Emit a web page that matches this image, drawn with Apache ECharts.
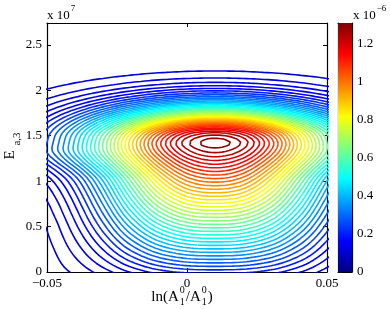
<!DOCTYPE html>
<html><head><meta charset="utf-8">
<script src="https://cdn.jsdelivr.net/npm/echarts@6/dist/echarts.min.js"></script>
<style>html,body{margin:0;padding:0;background:#fff}#c{width:390px;height:309px}</style>
</head><body><div id="c"></div>
<script>
// ln(A1/A1^0) grid columns
const lnRatio = [-0.06,-0.05,-0.04,-0.03,-0.02,-0.01,0,0.01,0.02,0.03,0.04,0.05,0.06];
// E_a,3 grid rows (x 1e7)
const energy = [-0.07,0.03,0.13,0.23,0.33,0.43,0.53,0.63,0.73,0.83,0.93,1.03,1.13,1.23,1.33,1.43,1.53,1.63,1.73,1.83,1.93,2.03,2.13,2.23,2.33,2.43,2.53,2.63,2.73,2.83];
// density values (x 1e-6), one row per energy value
const density = [
[0.0022,0.0085,0.0270,0.0563,0.0923,0.1232,0.1403,0.1439,0.1403,0.1232,0.0923,0.0563,0.0270],
[0.0035,0.0135,0.0423,0.0883,0.1447,0.1933,0.2200,0.2257,0.2200,0.1933,0.1447,0.0883,0.0423],
[0.0043,0.0165,0.0577,0.1204,0.1972,0.2633,0.2998,0.3076,0.2998,0.2633,0.1972,0.1204,0.0577],
[0.0055,0.0200,0.0732,0.1524,0.2495,0.3332,0.3794,0.3894,0.3794,0.3332,0.2495,0.1524,0.0732],
[0.0070,0.0250,0.0888,0.1844,0.3014,0.4027,0.4590,0.4712,0.4590,0.4027,0.3014,0.1844,0.0888],
[0.0085,0.0300,0.1049,0.2163,0.3529,0.4718,0.5383,0.5530,0.5383,0.4718,0.3529,0.2163,0.1049],
[0.0100,0.0360,0.1214,0.2481,0.4036,0.5399,0.6172,0.6347,0.6172,0.5399,0.4036,0.2481,0.1214],
[0.0130,0.0460,0.1387,0.2799,0.4531,0.6066,0.6955,0.7163,0.6955,0.6066,0.4531,0.2799,0.1387],
[0.0170,0.0560,0.1575,0.3117,0.5012,0.6715,0.7730,0.7979,0.7730,0.6715,0.5012,0.3117,0.1575],
[0.0220,0.0700,0.1786,0.3444,0.5481,0.7343,0.8494,0.8793,0.8494,0.7343,0.5481,0.3444,0.1786],
[0.0310,0.0880,0.2044,0.3803,0.5955,0.7958,0.9245,0.9604,0.9245,0.7958,0.5955,0.3803,0.2044],
[0.0466,0.1144,0.2383,0.4235,0.6471,0.8578,0.9985,1.0411,0.9985,0.8578,0.6471,0.4235,0.2383],
[0.0740,0.1584,0.2976,0.4918,0.7175,0.9290,1.0740,1.1210,1.0740,0.9290,0.7175,0.4918,0.2976],
[0.1135,0.2158,0.3695,0.5705,0.7954,1.0037,1.1491,1.1990,1.1491,1.0037,0.7954,0.5705,0.3695],
[0.1428,0.2562,0.4192,0.6265,0.8552,1.0668,1.2168,1.2706,1.2168,1.0668,0.8552,0.6265,0.4192],
[0.1381,0.2509,0.4157,0.6284,0.8666,1.0899,1.2511,1.3100,1.2511,1.0899,0.8666,0.6284,0.4157],
[0.1299,0.2360,0.3910,0.5911,0.8152,1.0253,1.1768,1.2323,1.1768,1.0253,0.8152,0.5911,0.3910],
[0.1081,0.1964,0.3255,0.4921,0.6786,0.8535,0.9796,1.0258,0.9796,0.8535,0.6786,0.4921,0.3255],
[0.0797,0.1447,0.2398,0.3625,0.4999,0.6287,0.7217,0.7557,0.7217,0.6287,0.4999,0.3625,0.2398],
[0.0519,0.0944,0.1563,0.2363,0.3259,0.4099,0.4705,0.4927,0.4705,0.4099,0.3259,0.2363,0.1563],
[0.0300,0.0544,0.0902,0.1364,0.1881,0.2365,0.2715,0.2843,0.2715,0.2365,0.1881,0.1364,0.0902],
[0.0153,0.0278,0.0461,0.0697,0.0961,0.1208,0.1387,0.1452,0.1387,0.1208,0.0961,0.0697,0.0461],
[0.0069,0.0126,0.0208,0.0314,0.0434,0.0545,0.0626,0.0655,0.0626,0.0545,0.0434,0.0314,0.0208],
[0.0028,0.0050,0.0083,0.0126,0.0173,0.0218,0.0250,0.0262,0.0250,0.0218,0.0173,0.0126,0.0083],
[0.0010,0.0018,0.0029,0.0045,0.0061,0.0077,0.0089,0.0093,0.0089,0.0077,0.0061,0.0045,0.0029],
[0.0003,0.0006,0.0009,0.0014,0.0019,0.0024,0.0028,0.0029,0.0028,0.0024,0.0019,0.0014,0.0009],
[0.0001,0.0002,0.0003,0.0004,0.0005,0.0007,0.0008,0.0008,0.0008,0.0007,0.0005,0.0004,0.0003],
[0,0,0.0001,0.0001,0.0001,0.0002,0.0002,0.0002,0.0002,0.0002,0.0001,0.0001,0.0001],
[0,0,0,0,0,0,0,0,0,0,0,0,0],
[0,0,0,0,0,0,0,0,0,0,0,0,0]
];
// contour levels (x 1e-6)
const contourLevels = [0.0315,0.063,0.0945,0.126,0.1575,0.189,0.2205,0.252,0.2835,0.315,0.3465,0.378,0.4095,0.441,0.4725,0.504,0.5355,0.567,0.5985,0.63,0.6615,0.693,0.7245,0.756,0.7875,0.819,0.8505,0.882,0.9135,0.945,0.9765,1.008,1.0395,1.071,1.1025,1.134,1.1655,1.197,1.2285,1.26,1.2915];
const xTicks = [-0.05, 0, 0.05];
const yTicks = [0, 0.5, 1, 1.5, 2, 2.5];
const cbTicks = [0, 0.2, 0.4, 0.6, 0.8, 1, 1.2];
const cbMax = 1.31;
const xRange = [-0.05, 0.05];
const yRange = [0, 2.74];

const FONT = '"Liberation Serif", "Times New Roman", serif';

function jet(t) {
  const c = v => Math.max(0, Math.min(1, v));
  return [c(Math.min(4*t-1.5, -4*t+4.5)), c(Math.min(4*t-0.5, -4*t+3.5)), c(Math.min(4*t+0.5, -4*t+2.5))];
}
function lineJet(t) {
  const c = jet(t);
  if (t < 0.125) c[2] = 0.8 + 1.6 * t;
  return c;
}
function rgb(a) { return 'rgb(' + a.map(v => Math.round(v*255)).join(',') + ')'; }

function catmull(p0,p1,p2,p3,t){ return 0.5*(2*p1 + (-p0+p2)*t + (2*p0-5*p1+4*p2-p3)*t*t + (-p0+3*p1-3*p2+p3)*t*t*t); }
function up1(arr, f) {
  const n = arr.length, out = [];
  for (let i = 0; i < n-1; i++) {
    const p0 = arr[Math.max(i-1,0)], p1 = arr[i], p2 = arr[i+1], p3 = arr[Math.min(i+2,n-1)];
    for (let s = 0; s < f; s++) out.push(catmull(p0,p1,p2,p3,s/f));
  }
  out.push(arr[n-1]);
  return out;
}
const fx = 8, fy = 3;
const Xf = up1(lnRatio, fx), Yf = up1(energy, fy);
const rowsUp = density.map(r => up1(r, fx));
const Zf = Yf.map(() => new Array(Xf.length));
for (let i = 0; i < Xf.length; i++) {
  const col = up1(rowsUp.map(r => r[i]), fy);
  for (let j = 0; j < col.length; j++) Zf[j][i] = col[j];
}

function contour(Z, X, Y, lv) {
  const ny = Z.length, nx = Z[0].length;
  const pts = {}, adj = {};
  function pt(k, xa,ya,za,xb,yb,zb){ if (!(k in pts)) { const t = (lv-za)/(zb-za); pts[k] = [xa+t*(xb-xa), ya+t*(yb-ya)]; } }
  function link(a,b){ (adj[a] = adj[a] || []).push(b); (adj[b] = adj[b] || []).push(a); }
  for (let j = 0; j < ny-1; j++) for (let i = 0; i < nx-1; i++) {
    const z00 = Z[j][i], z10 = Z[j][i+1], z01 = Z[j+1][i], z11 = Z[j+1][i+1];
    const a00 = z00>=lv, a10 = z10>=lv, a01 = z01>=lv, a11 = z11>=lv;
    const E = {};
    if (a00 !== a10) { const k = 'h'+j+'_'+i; pt(k, X[i],Y[j],z00, X[i+1],Y[j],z10); E.b = k; }
    if (a01 !== a11) { const k = 'h'+(j+1)+'_'+i; pt(k, X[i],Y[j+1],z01, X[i+1],Y[j+1],z11); E.t = k; }
    if (a00 !== a01) { const k = 'v'+j+'_'+i; pt(k, X[i],Y[j],z00, X[i],Y[j+1],z01); E.l = k; }
    if (a10 !== a11) { const k = 'v'+j+'_'+(i+1); pt(k, X[i+1],Y[j],z10, X[i+1],Y[j+1],z11); E.r = k; }
    const ks = Object.keys(E);
    if (ks.length === 2) link(E[ks[0]], E[ks[1]]);
    else if (ks.length === 4) {
      const c = (z00+z10+z01+z11)/4 >= lv;
      if (a00 && a11) { if (c) { link(E.b,E.r); link(E.l,E.t); } else { link(E.b,E.l); link(E.r,E.t); } }
      else { if (c) { link(E.b,E.l); link(E.t,E.r); } else { link(E.b,E.r); link(E.l,E.t); } }
    }
  }
  const used = new Set(), lines = [];
  const walk = start => {
    const line = [pts[start]]; used.add(start); let cur = start;
    while (true) {
      const nb = adj[cur].filter(n => !used.has(n));
      if (!nb.length) { if (line.length > 2 && adj[cur].includes(start)) line.push(pts[start]); break; }
      cur = nb[0]; used.add(cur); line.push(pts[cur]);
    }
    return line;
  };
  const nodes = Object.keys(adj);
  nodes.forEach(n => { if (adj[n].length === 1 && !used.has(n)) lines.push(walk(n)); });
  nodes.forEach(n => { if (!used.has(n)) lines.push(walk(n)); });
  return lines;
}

const series = [];
contourLevels.forEach(lv => {
  const color = rgb(lineJet(lv / cbMax));
  contour(Zf, Xf, Yf, lv).forEach(line => {
    if (line.length < 2) return;
    series.push({
      type: 'line', xAxisIndex: 0, yAxisIndex: 0, data: line, showSymbol: false, symbol: 'none',
      silent: true, animation: false, clip: true, z: 2,
      lineStyle: { color: color, width: 1.6 }
    });
  });
});

const stops = [];
for (let i = 0; i <= 64; i++) stops.push({ offset: i/64, color: rgb(jet(i/64)) });
series.push({
  type: 'custom', xAxisIndex: 2, yAxisIndex: 2, data: [[0, 0, 1, cbMax]], silent: true, animation: false,
  renderItem: (params, api) => {
    const p0 = api.coord([api.value(0), api.value(1)]), p1 = api.coord([api.value(2), api.value(3)]);
    return { type: 'rect', shape: { x: p0[0], y: p1[1], width: p1[0]-p0[0], height: p0[1]-p1[1] },
      style: { fill: new echarts.graphic.LinearGradient(0, 1, 0, 0, stops) } };
  }
});

const near = (v, arr) => arr.some(t => Math.abs(t - v) < 1e-6);
const fmtX = v => { if (!near(v, xTicks)) return ''; if (Math.abs(v) < 1e-9) return '0'; return (v < 0 ? '\u2212' : '') + Math.abs(v).toFixed(2); };
const fmtY = v => near(v, yTicks) ? String(+v.toFixed(2)) : '';
const fmtC = v => near(v, cbTicks) ? String(+v.toFixed(2)) : '';

const lab = (show, fmt) => ({ show: show, color: '#000', fontFamily: FONT, fontSize: 13, margin: 5, formatter: fmt });
const line = { show: true, onZero: false, lineStyle: { color: '#000', width: 1.2 } };
const tick = (len) => ({ show: true, inside: true, length: len, lineStyle: { color: '#000', width: 1 } });
const mkX = (grid, pos, min, max, interval, labels, tl) => ({
  type: 'value', gridIndex: grid, position: pos, min: min, max: max, interval: interval,
  axisLine: line, axisTick: tick(tl), axisLabel: lab(labels, fmtX), splitLine: { show: false }
});
const mkY = (grid, pos, min, max, interval, labels, fmt, tl) => ({
  type: 'value', gridIndex: grid, position: pos, min: min, max: max, interval: interval,
  axisLine: line, axisTick: tick(tl), axisLabel: lab(labels, fmt), splitLine: { show: false }
});

const chart = echarts.init(document.getElementById('c'), null, { renderer: 'canvas' });

const cv = document.createElement('canvas').getContext('2d');
const tw = (s, size) => { cv.font = size + 'px ' + FONT; return cv.measureText(s).width; };
const txt = (s, x, y, size, align, extra) => Object.assign({
  type: 'text', x: x, y: y, silent: true,
  style: { text: s, fontSize: size, fontFamily: FONT, fill: '#000', align: align || 'left', verticalAlign: 'middle' }
}, extra || {});

const graphics = [];
graphics.push(txt('x 10', 47, 16, 13));
graphics.push(txt('7', 47 + tw('x 10', 13) + 1, 9, 9));
graphics.push(txt('x 10', 353, 16, 13));
graphics.push(txt('\u22126', 353 + tw('x 10', 13) + 1, 9, 9));
graphics.push(txt('E', 10, 155, 15, 'center', { rotation: Math.PI/2 }));
graphics.push(txt('a,3', 17, 139, 11, 'center', { rotation: Math.PI/2 }));
(function(){
  const M = 15, S = 10, gap = 1;
  const pieces = [['ln(A'], ['1','0'], ['/A'], ['1','0'], [')']];
  let W = 0;
  pieces.forEach(p => { W += p.length === 1 ? tw(p[0], M) : tw(p[0], S) + 2*gap; });
  let x = 182 - W/2;
  const yb = 297;
  pieces.forEach(p => {
    if (p.length === 1) { graphics.push(txt(p[0], x, yb, M)); x += tw(p[0], M); }
    else {
      graphics.push(txt(p[0], x + gap, yb + 5, S));
      graphics.push(txt(p[1], x + gap, yb - 7, S));
      x += tw(p[0], S) + 2*gap;
    }
  });
})();

chart.setOption({
  backgroundColor: '#fff',
  animation: false,
  grid: [
    { left: 47, top: 23, width: 280, height: 249, outerBoundsMode: 'none', containLabel: false },
    { left: 338, top: 23, width: 14, height: 249, outerBoundsMode: 'none', containLabel: false }
  ],
  xAxis: [
    mkX(0, 'bottom', xRange[0], xRange[1], 0.05, true, 4),
    mkX(0, 'top', xRange[0], xRange[1], 0.05, false, 4),
    Object.assign(mkX(1, 'bottom', 0, 1, 1, false, 0), { axisTick: { show: false } }),
    Object.assign(mkX(1, 'top', 0, 1, 1, false, 0), { axisTick: { show: false } })
  ],
  yAxis: [
    mkY(0, 'left', yRange[0], yRange[1], 0.5, true, fmtY, 4),
    mkY(0, 'right', yRange[0], yRange[1], 0.5, false, fmtY, 4),
    mkY(1, 'left', 0, cbMax, 0.2, false, fmtC, 3),
    mkY(1, 'right', 0, cbMax, 0.2, true, fmtC, 3)
  ],
  graphic: graphics,
  series: series
});
</script></body></html>
